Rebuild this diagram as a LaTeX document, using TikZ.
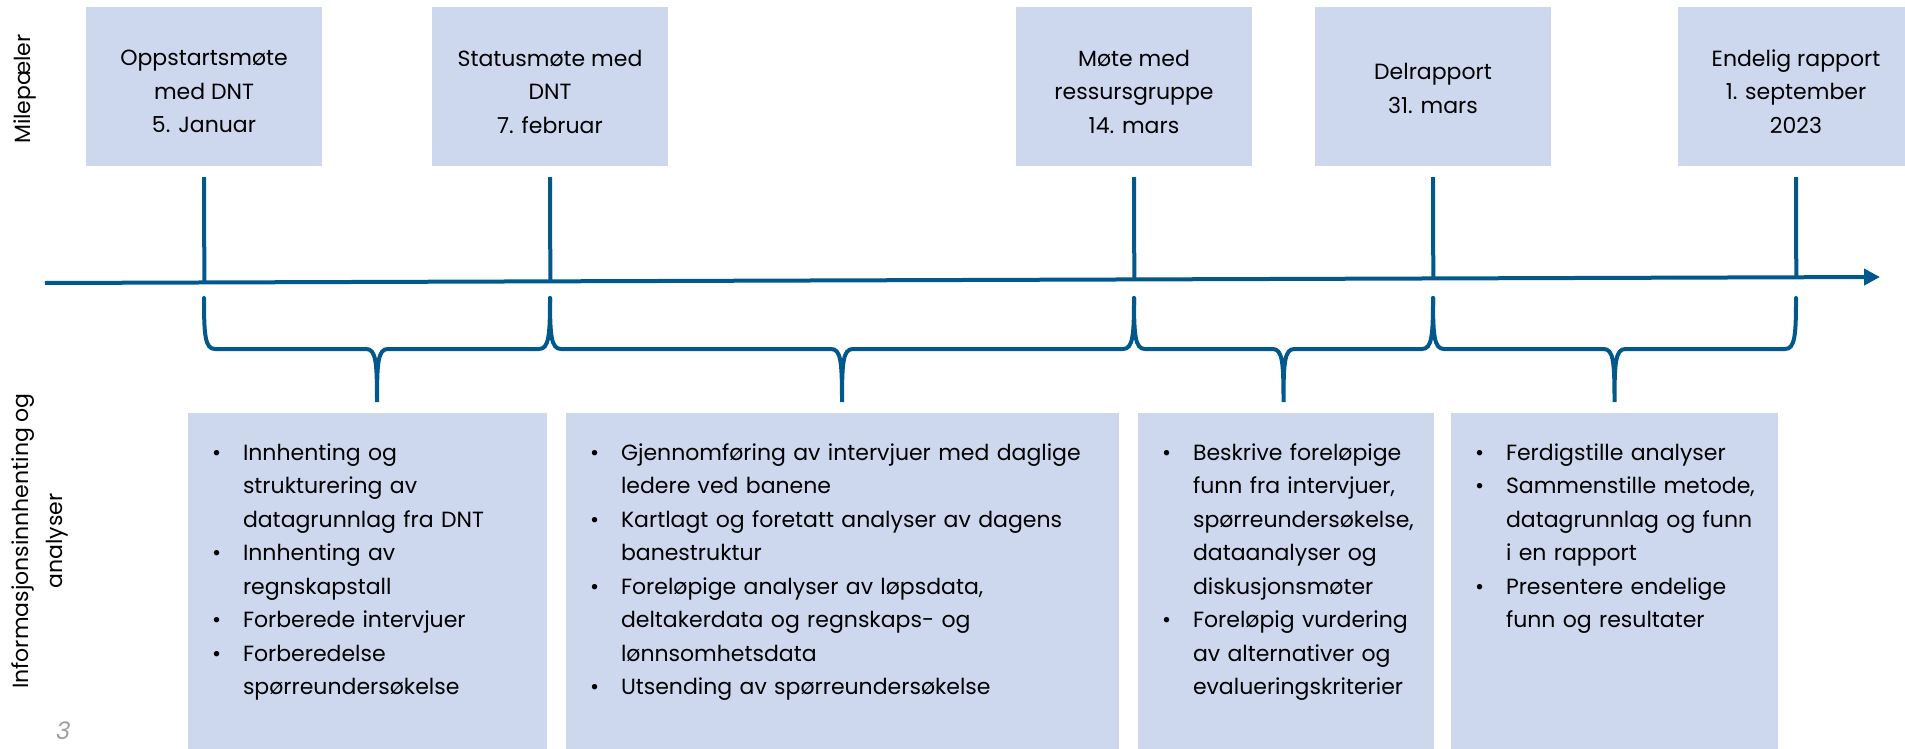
\documentclass[tikz,border=0pt]{standalone}
\usepackage{fontspec}
\setmainfont{Poppins}
\newfontfamily\pagefont[FakeSlant=0.2]{Poppins}
\usetikzlibrary{arrows.meta,calc}

\definecolor{boxblue}{RGB}{205,215,238}
\definecolor{lineblue}{RGB}{0,88,140}
\definecolor{pagegray}{RGB}{160,160,160}

% one bullet line with hanging indent
\newcommand\itm[1]{\hangindent=31pt\hangafter=1\noindent\makebox[31pt][l]{\textbullet}\strut\begingroup\let\\\newline#1\endgroup\par}

\begin{document}
\begin{tikzpicture}[x=1pt,y=-1pt,
    mile/.style={fill=boxblue, minimum width=236pt, minimum height=159pt, inner sep=0pt},
    miletxt/.style={align=center, inner sep=0pt, font=\fontsize{22}{33.5}\selectfont},
    task/.style={fill=boxblue, anchor=north, minimum height=340pt, inner sep=0pt},
    tasktxt/.style={anchor=north west, inner sep=0pt, font=\fontsize{22}{33.5}\selectfont},
    side/.style={rotate=90, align=center, inner sep=0pt, font=\fontsize{22}{33.5}\selectfont},
    axis/.style={lineblue, line width=4pt, -{Triangle[length=16pt,width=16pt]}},
    tick/.style={lineblue, line width=4pt},
    brace/.style={lineblue, line width=4pt, line cap=round}]
    \useasboundingbox (0,0) rectangle (1905,749);

    % milestones
    \node[mile] (m1) at (204,86.5) {};
    \node[mile] (m2) at (550,86.5) {};
    \node[mile] (m3) at (1134,86.5) {};
    \node[mile] (m4) at (1433,86.5) {};
    \node[mile] (m5) at (1796,86.5) {};
    \node[miletxt] (m1t) at ([yshift=-5pt]m1.center) {Oppstartsmøte\\med DNT\\5. Januar};
    \node[miletxt] (m2t) at ([yshift=-5pt]m2.center) {Statusmøte med\\DNT\\7. februar};
    \node[miletxt] (m3t) at ([yshift=-5pt]m3.center) {Møte med\\ressursgruppe\\14. mars};
    \node[miletxt] (m4t) at ([yshift=-2pt]m4.center) {Delrapport\\31. mars};
    \node[miletxt] (m5t) at ([yshift=-5pt]m5.center) {Endelig rapport\\1. september\\2023};

    % time axis
    \coordinate (ax0) at (45,283);
    \coordinate (ax1) at (1880,277);
    \draw[axis] (ax0) -- (ax1);
    \foreach \n in {1,...,5}
        \draw[tick] ([yshift=-11pt]m\n.south) -- ($(ax0)!(m\n.south)!(ax1)$);

    % braces
    \foreach \a/\m/\b in {204/377/550, 550/842/1134, 1134/1283.5/1433, 1433/1614.5/1796}
        \draw[brace] (\a,298) .. controls (\a,335) and (\a+1,349) .. (\a+11,349) -- (\m-11,349)
            .. controls (\m-1,349) and (\m,362) .. (\m,402) .. controls (\m,362) and (\m+1,349) .. (\m+11,349)
            -- (\b-11,349) .. controls (\b-1,349) and (\b,335) .. (\b,298);

    % work packages
    \node[task, minimum width=359pt] (b1) at (367.5,413) {};
    \node[task, minimum width=553pt] (b2) at (842.5,413) {};
    \node[task, minimum width=296pt] (b3) at (1286,413) {};
    \node[task, minimum width=327pt] (b4) at (1614.5,413) {};
    \node[tasktxt, text width=335pt] (b1t) at ([xshift=24pt,yshift=-23.5pt]b1.north west) {%
        \itm{Innhenting og\\strukturering av\\datagrunnlag fra DNT}
        \itm{Innhenting av\\regnskapstall}
        \itm{Forberede intervjuer}
        \itm{Forberedelse\\spørreundersøkelse}};
    \node[tasktxt, text width=529pt] (b2t) at ([xshift=24pt,yshift=-23.5pt]b2.north west) {%
        \itm{Gjennomføring av intervjuer med daglige\\ledere ved banene}
        \itm{Kartlagt og foretatt analyser av dagens\\banestruktur}
        \itm{Foreløpige analyser av løpsdata,\\deltakerdata og regnskaps- og\\lønnsomhetsdata}
        \itm{Utsending av spørreundersøkelse}};
    \node[tasktxt, text width=272pt] (b3t) at ([xshift=24pt,yshift=-23.5pt]b3.north west) {%
        \itm{Beskrive foreløpige\\funn fra intervjuer,\\spørreundersøkelse,\\dataanalyser og\\diskusjonsmøter}
        \itm{Foreløpig vurdering\\av alternativer og\\evalueringskriterier}};
    \node[tasktxt, text width=303pt] (b4t) at ([xshift=24pt,yshift=-23.5pt]b4.north west) {%
        \itm{Ferdigstille analyser}
        \itm{Sammenstille metode,\\datagrunnlag og funn\\i en rapport}
        \itm{Presentere endelige\\funn og resultater}};

    % row labels
    \node[side] (lab1) at (25,89) {Milepæler};
    \node[side] (lab2) at (40,541) {Informasjonsinnhenting og\\analyser};
    \node[text=pagegray, font=\pagefont\fontsize{24}{24}\selectfont] (pg) at (62,731) {3};
\end{tikzpicture}
\end{document}
